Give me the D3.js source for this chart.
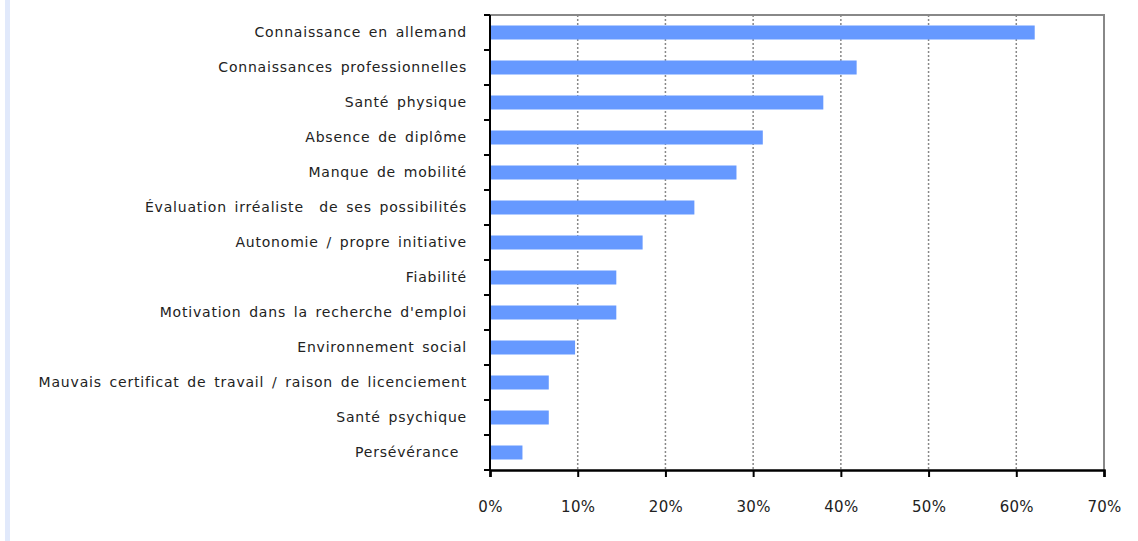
<!DOCTYPE html>
<html>
<head>
<meta charset="utf-8">
<script src="https://cdn.jsdelivr.net/npm/d3@7"></script>
<style>
  body { margin: 0; background: #fff; }
  svg { display: block; }
  text { font-family: "DejaVu Sans", sans-serif; fill: #222; }
</style>
</head>
<body>
<svg width="1138" height="541"></svg>
<script>
var categories = [
  "Connaissance en allemand",
  "Connaissances professionnelles",
  "Santé physique",
  "Absence de diplôme",
  "Manque de mobilité",
  "Évaluation irréaliste  de ses possibilités",
  "Autonomie / propre initiative",
  "Fiabilité",
  "Motivation dans la recherche d'emploi",
  "Environnement social",
  "Mauvais certificat de travail / raison de licenciement",
  "Santé psychique",
  "Persévérance "
];
var values = [62.1, 41.8, 38.0, 31.1, 28.1, 23.3, 17.4, 14.4, 14.4, 9.7, 6.7, 6.7, 3.7];
var ticks = [0, 10, 20, 30, 40, 50, 60, 70];

var margin = {top: 15, right: 34, bottom: 71, left: 490},
    width = 1138 - margin.left - margin.right,
    height = 541 - margin.top - margin.bottom;

var svg = d3.select("svg");

// light strip on the left edge
svg.append("rect").attr("x", 5).attr("y", 0).attr("width", 5).attr("height", 541)
    .attr("fill", "#e1e9fb");

var g = svg.append("g").attr("transform", "translate(" + margin.left + "," + margin.top + ")");

var x = d3.scaleLinear().domain([0, 70]).range([0, width]);
var y = d3.scaleBand().domain(categories).range([0, height]).paddingInner(0.6).paddingOuter(0.3);
var yb = d3.scaleLinear().domain([0, categories.length]).range([0, height]);

// dotted grid
g.selectAll(".grid").data(ticks.slice(1, -1))
  .enter().append("line")
    .attr("x1", function(d) { return x(d); })
    .attr("x2", function(d) { return x(d); })
    .attr("y1", 0).attr("y2", height)
    .attr("stroke", "#888").attr("stroke-width", 1.5)
    .attr("stroke-dasharray", "2,2");

// frame (top and right)
g.append("path")
    .attr("d", "M0,0H" + width + "V" + height)
    .attr("fill", "none").attr("stroke", "#888").attr("stroke-width", 2);

// bars
g.selectAll(".bar").data(values)
  .enter().append("rect")
    .attr("x", 0)
    .attr("y", function(d, i) { return y(categories[i]); })
    .attr("width", function(d) { return x(d); })
    .attr("height", y.bandwidth())
    .attr("fill", "#6699ff");

// left axis with ticks at category boundaries
g.append("line").attr("x1", 0).attr("x2", 0).attr("y1", 0).attr("y2", height)
    .attr("stroke", "#000").attr("stroke-width", 2);
g.selectAll(".ytick").data(d3.range(categories.length + 1))
  .enter().append("line")
    .attr("x1", -6).attr("x2", 0)
    .attr("y1", function(d) { return yb(d); })
    .attr("y2", function(d) { return yb(d); })
    .attr("stroke", "#000").attr("stroke-width", 2);

g.selectAll(".ylabel").data(categories)
  .enter().append("text")
    .attr("x", -23)
    .attr("y", function(d) { return y(d) + y.bandwidth() / 2; })
    .attr("dy", "0.35em")
    .attr("text-anchor", "end")
    .style("font-size", "14px")
    .style("letter-spacing", "0.8px")
    .style("word-spacing", "2.5px")
    .style("white-space", "pre")
    .text(function(d) { return d; });

// bottom axis
var xAxis = d3.axisBottom(x).tickValues(ticks).tickSize(7).tickPadding(24)
    .tickFormat(function(d) { return d + "%"; });
var ax = g.append("g").attr("transform", "translate(0," + height + ")").call(xAxis);
ax.select(".domain").attr("stroke", "#000").attr("stroke-width", 2.5);
ax.selectAll(".tick line").attr("stroke", "#000").attr("stroke-width", 2);
ax.selectAll(".tick text").style("font-family", "DejaVu Sans, sans-serif")
    .style("font-size", "15px").style("letter-spacing", "0.3px").attr("fill", "#222");
</script>
</body>
</html>
